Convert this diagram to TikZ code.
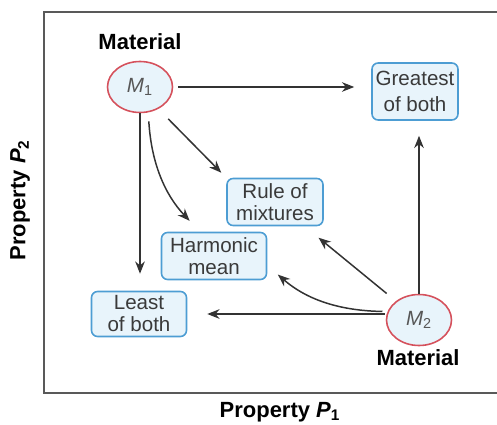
\documentclass[tikz,border=0pt]{standalone}
\usepackage{fontspec}
\setmainfont{Liberation Sans}
\usetikzlibrary{shapes.geometric, arrows.meta}

\definecolor{mred}{HTML}{D5515C}
\definecolor{mfill}{HTML}{E8F4FB}
\definecolor{bblue}{HTML}{4D9DD3}
\definecolor{txt}{HTML}{3A3A3A}
\definecolor{arrgray}{HTML}{333333}

\begin{document}
\begin{tikzpicture}[
    font=\fontsize{11.7}{12.5}\selectfont,
    mat/.style={ellipse, draw=mred, fill=mfill, line width=0.9pt, minimum width=1.3cm, minimum height=1.02cm, inner sep=0pt, text=txt!85},
    prop/.style={rectangle, rounded corners=3.5pt, draw=bblue, fill=mfill, line width=0.9pt, align=center, text=txt, inner sep=0pt},
    lbl/.style={font=\fontsize{12.5}{14}\selectfont\bfseries},
    arr/.style={-{Stealth[length=7pt,width=5.5pt]}, arrgray, line width=0.85pt}
  ]
    \useasboundingbox (0,0) rectangle (9.94,8.48);
    % frame
    \draw[gray!70!black, line width=1pt] (9.94,8.24) -- (0.88,8.24) -- (0.88,0.62) -- (9.94,0.62);
    
    \node[mat] (m1) at (2.80,6.74) {\textit{M}\textsubscript{1}};
    \node[lbl] (mat1) at (2.80,7.64) {Material};
    \node[mat] (m2) at (8.38,2.08) {\textit{M}\textsubscript{2}};
    \node[lbl] (mat2) at (8.36,1.32) {Material};
    
    \node[prop, minimum width=1.72cm, minimum height=1.14cm, font=\fontsize{11.7}{15}\selectfont] (great) at (8.30,6.65) {Greatest\\of both};
    \node[prop, minimum width=1.92cm, minimum height=0.94cm] (rule) at (5.50,4.44) {Rule of\\mixtures};
    \node[prop, minimum width=2.10cm, minimum height=0.94cm] (harm) at (4.28,3.36) {Harmonic\\mean};
    \node[prop, minimum width=1.90cm, minimum height=0.90cm] (least) at (2.78,2.20) {Least\\of both};
    
    \draw[arr, shorten <=0.1cm, shorten >=0.34cm] (m1.east) -- (m1.east -| great.west);
    \draw[arr, shorten >=0.34cm] (m1.south) -- (m1.south |- least.north);
    \draw[arr, shorten <=0.18cm, shorten >=0.3cm] (m1.-72) to[bend right=20] (harm.120);
    \draw[arr, shorten <=0.28cm, shorten >=0.14cm] (m1.-50) -- (rule.north west);
    
    \draw[arr, shorten >=0.3cm] (m2.north) -- (m2.north |- great.south);
    \draw[arr, shorten <=0.24cm, shorten >=0.36cm] (m2) -- (rule);
    \draw[arr, shorten <=0.1cm, shorten >=0.28cm] (m2.165) to[bend left=20] (harm.-10);
    \draw[arr, shorten <=0.02cm, shorten >=0.4cm] (m2.west |- least.east) -- (least.east);
    
    % axes
    \node[lbl, rotate=90] (p2) at (0.40,4.48) {Property \textit{P}\textsubscript{2}};
    \node[lbl] (p1) at (5.60,0.24) {Property \textit{P}\textsubscript{1}};
  \end{tikzpicture}
\end{document}
